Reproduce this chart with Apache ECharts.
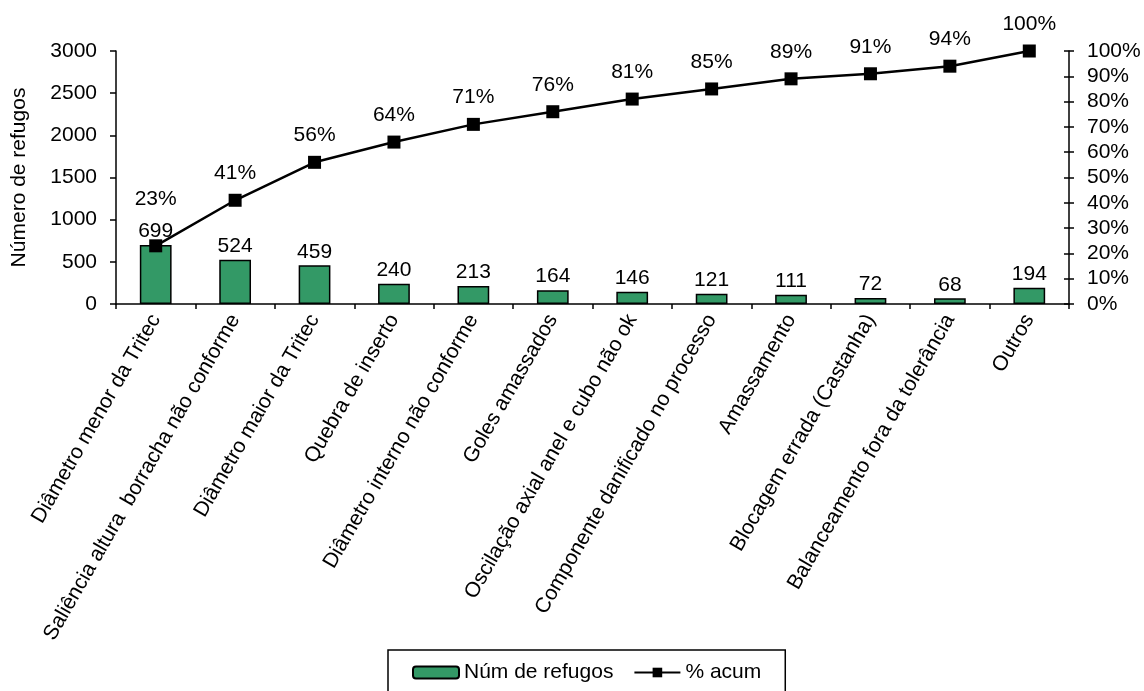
<!DOCTYPE html>
<html>
<head>
<meta charset="utf-8">
<script src="https://cdn.jsdelivr.net/npm/echarts@6/dist/echarts.min.js"></script>
<style>
  html, body { margin: 0; padding: 0; background: #ffffff; }
  #chart { width: 1144px; height: 691px; }
</style>
</head>
<body>
<div id="chart"></div>
<script>
// Pareto of scrap causes: counts per cause and cumulative share
const categories = [
  'Diâmetro menor da Tritec',
  'Saliência altura  borracha não conforme',
  'Diâmetro maior da Tritec',
  'Quebra de inserto',
  'Diâmetro interno não conforme',
  'Goles amassados',
  'Oscilação axial anel e cubo não ok',
  'Componente danificado no processo',
  'Amassamento',
  'Blocagem errada (Castanha)',
  'Balanceamento fora da tolerância',
  'Outros'
];
const refugos = [699, 524, 459, 240, 213, 164, 146, 121, 111, 72, 68, 194];
const acumPct = [23, 41, 56, 64, 71, 76, 81, 85, 89, 91, 94, 100];

const FONT = 'Liberation Sans, Arial, sans-serif';
const FS = 21;

const chart = echarts.init(document.getElementById('chart'), null, { renderer: 'canvas' });

const lineData = acumPct.map((v, i) => i === 0
  ? { value: v, label: { distance: 30 } }
  : v);

chart.setOption({
  backgroundColor: '#ffffff',
  animation: false,
  textStyle: { fontFamily: FONT, color: '#000' },
  grid: { left: 116, right: 75, top: 51, bottom: 387, containLabel: false },
  legend: {
    top: 650,
    left: 388,
    width: 397,
    padding: [12, 24, 30, 24],
    borderColor: '#000',
    borderWidth: 1.5,
    borderRadius: 0,
    itemGap: 20,
    itemWidth: 46,
    itemHeight: 12,
    textStyle: { fontFamily: FONT, fontSize: FS, color: '#000' },
    data: ['Núm de refugos', '% acum']
  },
  xAxis: {
    type: 'category',
    data: categories,
    boundaryGap: true,
    axisLine: { lineStyle: { color: '#000', width: 1.5 } },
    axisTick: { show: true, length: 5, lineStyle: { color: '#000', width: 1.5 } },
    axisLabel: {
      interval: 0,
      rotate: 60,
      margin: 12,
      fontFamily: FONT,
      fontSize: FS,
      color: '#000'
    }
  },
  yAxis: [
    {
      type: 'value',
      min: 0, max: 3000, interval: 500,
      name: 'Número de refugos',
      nameLocation: 'middle',
      nameGap: 86,
      nameRotate: 90,
      nameTextStyle: { fontFamily: FONT, fontSize: FS, color: '#000' },
      splitLine: { show: false },
      axisLine: { show: true, lineStyle: { color: '#000', width: 1.5 } },
      axisTick: { show: true, length: 6, lineStyle: { color: '#000', width: 1.5 } },
      axisLabel: {
        margin: 19,
        formatter: (v) => String(v),
        fontFamily: FONT, fontSize: FS, color: '#000'
      }
    },
    {
      type: 'value',
      position: 'right',
      min: 0, max: 100, interval: 10,
      splitLine: { show: false },
      axisLine: { show: true, lineStyle: { color: '#000', width: 1.5 } },
      axisTick: { show: true, length: 5, lineStyle: { color: '#000', width: 1.5 } },
      axisLabel: {
        margin: 18,
        formatter: (v) => v + '%',
        fontFamily: FONT, fontSize: FS, color: '#000'
      }
    },
    {
      // inner half of the crossing ticks on the percentage axis
      type: 'value',
      position: 'right',
      min: 0, max: 100, interval: 10,
      splitLine: { show: false },
      axisLine: { show: false },
      axisTick: { show: true, inside: true, length: 5, lineStyle: { color: '#000', width: 1.5 } },
      axisLabel: { show: false }
    }
  ],
  series: [
    {
      name: 'Núm de refugos',
      type: 'bar',
      yAxisIndex: 0,
      data: refugos,
      barWidth: '40%',
      itemStyle: { color: '#339966', borderColor: '#000', borderWidth: 1.5 },
      label: {
        show: true,
        position: 'top',
        distance: 3,
        fontFamily: FONT,
        fontSize: FS,
        color: '#000'
      },
      z: 2
    },
    {
      name: '% acum',
      type: 'line',
      yAxisIndex: 1,
      data: lineData,
      symbol: 'rect',
      symbolSize: 13,
      lineStyle: { color: '#000', width: 2.5 },
      itemStyle: { color: '#000' },
      label: {
        show: true,
        position: 'top',
        distance: 10,
        formatter: '{c}%',
        fontFamily: FONT,
        fontSize: FS,
        color: '#000'
      },
      z: 3
    }
  ]
});
</script>
</body>
</html>
